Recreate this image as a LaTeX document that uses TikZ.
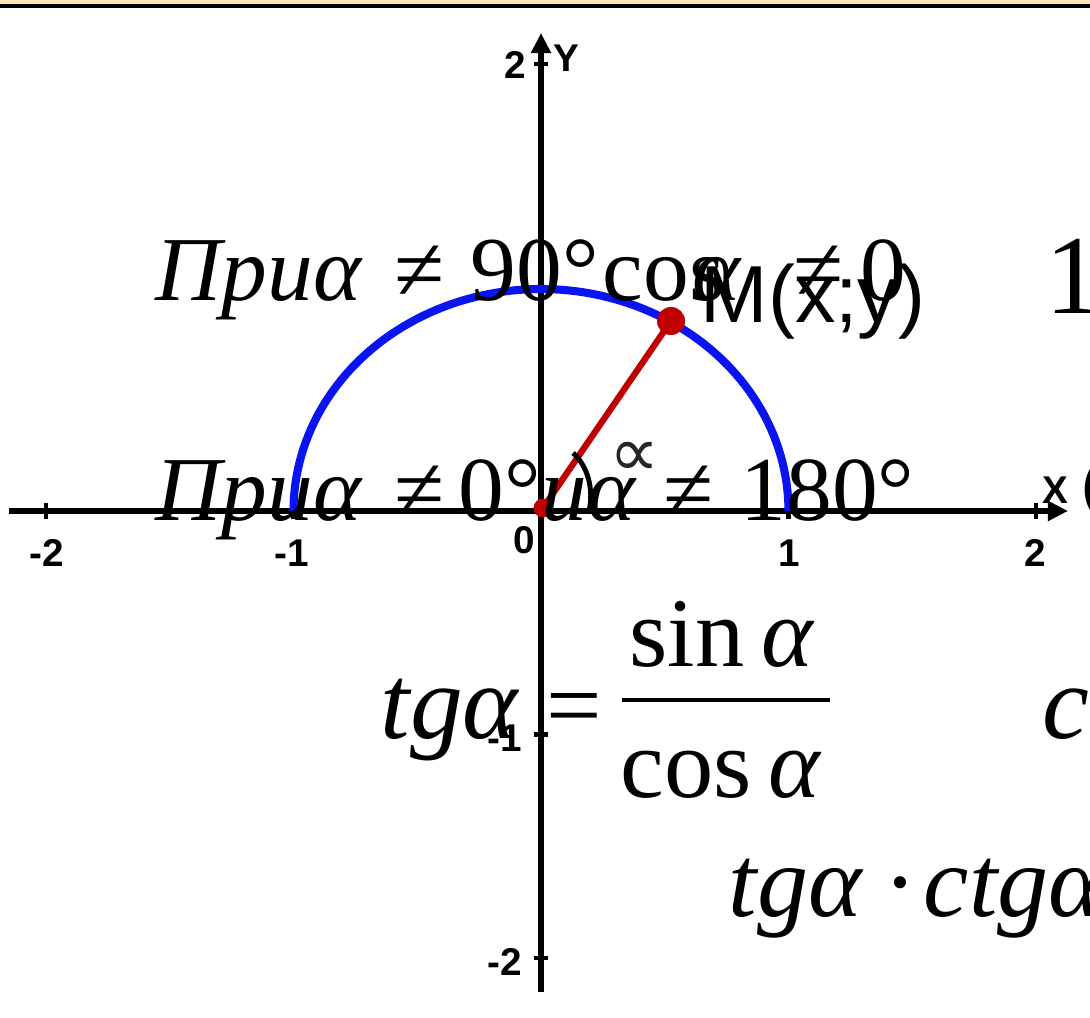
\documentclass[tikz,border=0pt]{standalone}
\usepackage{fontspec}
\setmainfont{Liberation Serif}
\newfontfamily\axisfont{Liberation Sans}
\newfontfamily\symbfont{DejaVu Sans}
\usetikzlibrary{arrows.meta}

\definecolor{bandbeige}{RGB}{250,232,188}
\definecolor{pointred}{RGB}{192,0,0}
\definecolor{arcblue}{RGB}{10,20,240}

\tikzset{
  axisline/.style={line width=1.6pt, -{Triangle[length=0.2cm, width=0.19cm]}},
  tickmark/.style={line width=1.3pt},
  axislabel/.style={font=\axisfont\bfseries\fontsize{11}{11}\selectfont, inner sep=0pt},
  bigtext/.style={font=\fontsize{26}{26}\selectfont, inner sep=0pt, anchor=base west},
  formula/.style={font=\fontsize{28}{28}\selectfont, inner sep=0pt},
  reddot/.style={circle, fill=pointred, inner sep=0pt}
}

\begin{document}
\begin{tikzpicture}[x=0.01cm, y=-0.01cm]
        \useasboundingbox (0,0) rectangle (1090,1018);
        \clip (0,0) rectangle (1090,1018);

        % Draw the top band
        \fill[bandbeige] (0,0) rectangle (1090,5);
        \draw[line width=1.1pt] (0,6) -- (1090,6);

        % Draw the coordinate axes
        \coordinate (O) at (541,511);
        \coordinate (xstart) at (9,511);
        \coordinate (xend) at (1068,511);
        \coordinate (ybottom) at (541,992);
        \coordinate (ytop) at (541,33);
        \draw[axisline] (xstart) -- (xend);
        \draw[axisline] (ybottom) -- (ytop);

        % Ticks and their labels
        \foreach \t in {-2,-1,1,2}
          \draw[tickmark] (O) ++(\t*247.5,-8) -- ++(0,16);
        \foreach \t in {2,-1,-2}
          \draw[tickmark] (O) ++(-7,-\t*223.5) -- ++(14,0);
        \foreach \v/\px in {-2/47, -1/292, 1/789, 2/1035}
          \node[axislabel] (x\v) at (\px,553) {\v};
        \node[axislabel] (y2) at (515,65) {2};
        \node[axislabel] (y-1) at (505,738) {-1};
        \node[axislabel] (y-2) at (505,962) {-2};
        \node[axislabel] (zero) at (524,540) {0};
        \node[axislabel] (ylabel) at (566,58) {Y};
        \node[axislabel] (xlabel) at (1055,490) {X};
        \node[font=\axisfont\fontsize{17}{17}\selectfont, inner sep=0pt, anchor=west] (xparen) at (1081,490) {(};

        % Draw the half circle
        \draw[arcblue, line width=2.3pt, domain=0:180, samples=100] plot ({541+247.5*cos(\x)}, {511-222*sin(\x)});

        % Draw the radius to M and the angle
        \node[reddot, minimum size=0.28cm] (M) at (671,321) {};
        \node[reddot, minimum size=0.19cm] (Odot) at (543,508) {};
        \draw[pointred, line width=1.8pt] (Odot.center) -- (M.center);
        \draw[line width=1.4pt] (573,453) .. controls (588,466) and (594,490) .. (589,511);
        \node[font=\symbfont\fontsize{20}{20}\selectfont, text=black!85, inner sep=0pt] (alpha) at (635,459) {∝};
        \node[font=\axisfont\fontsize{23}{23}\selectfont, inner sep=0pt, anchor=base west] (Mlabel) at (700,322) {M(x;y)};

        % Conditions
        \node[bigtext] (c1a) at (155,300) {\textit{Приα}};
        \node[bigtext] (c1b) at (394,300) {≠};
        \node[bigtext] (c1c) at (470,300) {90°};
        \node[bigtext] (c1d) at (602,300) {cos};
        \node[bigtext] (c1e) at (692,300) {\textit{α}};
        \node[bigtext] (c1f) at (793,300) {≠};
        \node[bigtext] (c1g) at (860,300) {0};
        \node[bigtext] (c2a) at (155,520) {\textit{Приα}};
        \node[bigtext] (c2b) at (394,520) {≠};
        \node[bigtext] (c2c) at (458,520) {0°};
        \node[bigtext] (c2d) at (541,520) {\textit{иα}};
        \node[bigtext] (c2e) at (663,520) {≠};
        \node[bigtext] (c2f) at (740,520) {180°};
        \node[font=\fontsize{32}{32}\selectfont, inner sep=0pt, anchor=base west] (one) at (1045,313) {1};

        % Formulas
        \node[formula, font=\fontsize{30}{30}\selectfont, anchor=base west] (tg) at (380,738) {\textit{tgα}};
        \node[formula, anchor=base west] (eq) at (546,738) {=};
        \node[formula, anchor=base] (num) at (722,666) {sin\,\textit{α}};
        \node[formula, anchor=base] (den) at (721,797) {cos\,\textit{α}};
        \coordinate (barL) at (622,700);
        \coordinate (barR) at (830,700);
        \draw[line width=1.4pt] (barL) -- (barR);
        \node[formula, font=\fontsize{30}{30}\selectfont, anchor=base west] (ctg) at (1042,738) {\textit{ctgα}};
        \node[formula, font=\fontsize{29}{29}\selectfont, anchor=base west] (prod) at (728,916) {\textit{tgα}\hspace{0.2em}·\hspace{0.06em}\textit{ctgα}};
\end{tikzpicture}
\end{document}
